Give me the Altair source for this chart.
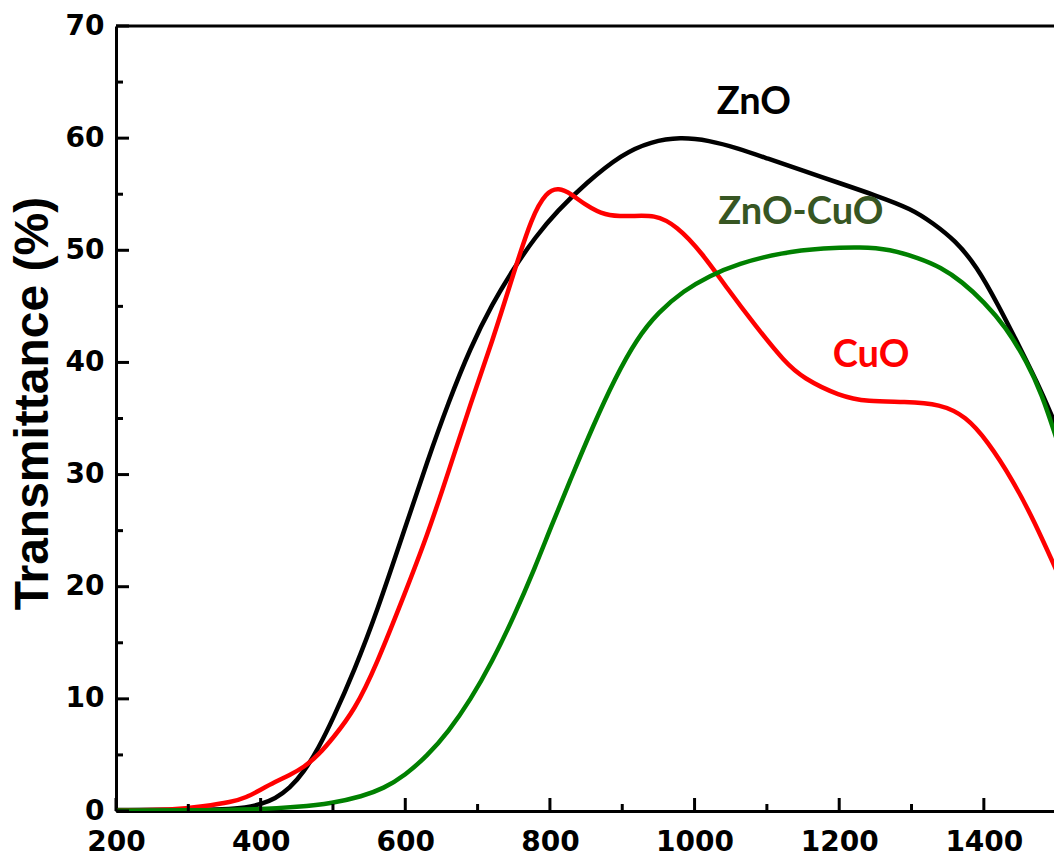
import altair as alt
import pandas as pd

W, H = 938, 785

# ---- data ----
zno_x = [200, 300, 350, 380, 400, 420, 440, 460, 480, 500, 530, 560, 600, 630, 660, 690, 720, 750,
         780, 810, 850, 900, 940, 980, 1020, 1060, 1100, 1150, 1200, 1250, 1300, 1330, 1360, 1390,
         1420, 1450, 1480, 1500]
zno_y = [0.1, 0.1, 0.15, 0.3, 0.6, 1.1, 2.0, 3.5, 5.6, 8.2, 12.6, 17.6, 25.3, 31.1, 36.5, 41.3, 45.2, 48.4,
         51.2, 53.5, 56.0, 58.6, 59.7, 60.1, 59.8, 59.1, 58.2, 57.1, 56.0, 54.9, 53.7, 52.4, 50.9, 48.6,
         45.1, 41.3, 37.4, 34.3]

cuo_x = [200, 280, 320, 360, 380, 400, 420, 440, 460, 480, 500, 530, 560, 600, 630, 660, 690, 720,
         750, 775, 795, 812, 830, 850, 875, 910, 945, 975, 1010, 1045, 1085, 1125, 1150, 1200, 1240,
         1290, 1340, 1375, 1405, 1440, 1470, 1500]
cuo_y = [0.05, 0.1, 0.4, 0.8, 1.2, 1.9, 2.6, 3.2, 3.9, 5.0, 6.5, 9.0, 13.0, 19.5, 24.5, 30.3, 36.3, 41.8,
         48.0, 53.0, 55.2, 55.6, 55.0, 54.0, 53.1, 53.0, 53.2, 52.2, 49.8, 46.6, 43.2, 40.0, 38.6, 37.0, 36.5,
         36.5, 36.3, 35.2, 33.0, 29.5, 25.8, 21.5]

mix_x = [200, 300, 400, 450, 500, 540, 570, 600, 630, 660, 690, 720, 750, 780, 800, 830, 860, 890,
         920, 950, 985, 1020, 1060, 1120, 1180, 1230, 1270, 1310, 1340, 1370, 1400, 1430, 1460, 1480, 1500]
mix_y = [0.05, 0.05, 0.15, 0.35, 0.7, 1.3, 2.0, 3.2, 4.9, 7.1, 9.9, 13.3, 17.3, 21.8, 25.1, 29.8, 34.4, 38.6,
         42.1, 44.5, 46.4, 47.7, 48.8, 49.8, 50.2, 50.3, 50.1, 49.3, 48.5, 47.2, 45.4, 43.2, 40.0, 37.2, 33.3]

series_names = ["ZnO", "CuO", "ZnO-CuO"]
series_colors = ["#000000", "#ff0000", "#008000"]

label_text = ["ZnO", "ZnO-CuO", "CuO"]
label_x = [1082, 1147, 1244]
label_y = [63.1, 53.3, 40.6]
label_color = ["#000000", "#375623", "#ff0000"]

x_major = [200, 400, 600, 800, 1000, 1200, 1400]
x_minor = [300, 500, 700, 900, 1100, 1300, 1500]
y_major = [0, 10, 20, 30, 40, 50, 60, 70]
y_minor = [5, 15, 25, 35, 45, 55, 65]

# ---- tables ----
rows = []
for name, xs, ys in zip(series_names, [zno_x, cuo_x, mix_x], [zno_y, cuo_y, mix_y]):
    for a, b in zip(xs, ys):
        rows.append({"series": name, "wavelength": a, "T": b})
df = pd.DataFrame(rows)
labels_df = pd.DataFrame({"text": label_text, "x": label_x, "y": label_y, "color": label_color})

x_scale = alt.Scale(domain=[200, 1497], nice=False, zero=False)
y_scale = alt.Scale(domain=[0, 70], nice=False, zero=True)

x_axis = alt.Axis(values=x_major, format="d", ticks=False, grid=False, title=None, domain=True,
                  domainColor="black", domainWidth=3, labelFont="DejaVu Sans",
                  labelFontWeight="bold", labelFontSize=28, labelColor="black",
                  labelPadding=17, labelFlush=False, labelOverlap=False)
y_axis = alt.Axis(values=y_major, format="d", ticks=False, grid=False, title="Transmittance (%)",
                  domain=True, domainColor="black", domainWidth=3, labelFont="DejaVu Sans",
                  labelFontWeight="bold", labelFontSize=28, labelColor="black",
                  labelPadding=12, labelOverlap=False,
                  titleFont="Liberation Sans", titleFontSize=48, titleFontWeight="bold",
                  titleColor="black", titlePadding=8, titleY=377)

layers = []
for name, col in zip(series_names, series_colors):
    layers.append(
        alt.Chart(df).transform_filter(alt.datum.series == name)
        .mark_line(strokeWidth=4.5, color=col, interpolate="basis", clip=True)
        .encode(
            x=alt.X("wavelength:Q", scale=x_scale, axis=x_axis),
            y=alt.Y("T:Q", scale=y_scale, axis=y_axis),
        )
    )

xt_major = alt.Chart(pd.DataFrame({"v": x_major})).mark_tick(
    orient="vertical", size=13, thickness=3, color="black", opacity=1).encode(
    x=alt.X("v:Q", scale=x_scale, axis=x_axis), y=alt.value(H - 6.5))
xt_minor = alt.Chart(pd.DataFrame({"v": x_minor})).mark_tick(
    orient="vertical", size=7, thickness=3, color="black", opacity=1, clip=True).encode(
    x=alt.X("v:Q", scale=x_scale, axis=x_axis), y=alt.value(H - 3.5))
yt_major = alt.Chart(pd.DataFrame({"v": y_major})).mark_tick(
    orient="horizontal", size=13, thickness=3, color="black", opacity=1).encode(
    y=alt.Y("v:Q", scale=y_scale, axis=y_axis), x=alt.value(6.5))
yt_minor = alt.Chart(pd.DataFrame({"v": y_minor})).mark_tick(
    orient="horizontal", size=7, thickness=3, color="black", opacity=1).encode(
    y=alt.Y("v:Q", scale=y_scale, axis=y_axis), x=alt.value(3.5))

top_border = alt.Chart(pd.DataFrame({"a": [0]})).mark_rule(color="black", strokeWidth=3).encode(
    x=alt.value(0), x2=alt.value(W), y=alt.value(0))

text = alt.Chart(labels_df).mark_text(font="Lato", fontWeight="bold", fontSize=38,
                                      align="center", baseline="middle").encode(
    x=alt.X("x:Q", scale=x_scale, axis=x_axis),
    y=alt.Y("y:Q", scale=y_scale, axis=y_axis),
    text="text:N",
    color=alt.Color("color:N", scale=None),
)

chart = alt.layer(*layers, xt_major, xt_minor, yt_major, yt_minor, top_border, text).properties(
    width=W, height=H,
    autosize=alt.AutoSizeParams(type="none"),
    padding={"left": 116, "top": 26, "right": 0, "bottom": 56},
    background="white",
).configure_view(stroke=None)

chart.save("out.html", embed_options={"renderer": "svg", "actions": False})
